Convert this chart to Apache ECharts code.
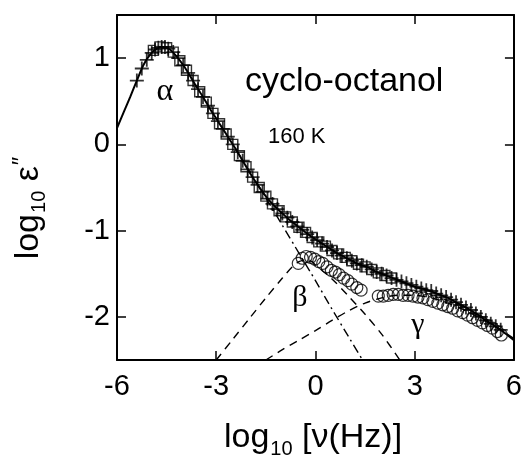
<!DOCTYPE html>
<html>
<head>
<meta charset="utf-8">
<script src="https://cdn.jsdelivr.net/npm/echarts@6.0.0/dist/echarts.min.js"></script>
<style>
  html, body { margin: 0; padding: 0; background: #fff; }
  #chart { width: 525px; height: 458px; }
</style>
</head>
<body>
<div id="chart"></div>
<script>
// fitted total curve (solid line)
var fitX = [-6.0, -5.8, -5.6, -5.4, -5.2, -5.0, -4.8, -4.6, -4.4, -4.2, -4.0, -3.8, -3.6, -3.4, -3.2, -3.0, -2.8, -2.6, -2.4, -2.2, -2.0, -1.8, -1.6, -1.4, -1.2, -1.0, -0.8, -0.6, -0.4, -0.2, 0.0, 0.2, 0.4, 0.6, 0.8, 1.0, 1.2, 1.4, 1.6, 1.8, 2.0, 2.2, 2.4, 2.6, 2.8, 3.0, 3.2, 3.4, 3.6, 3.8, 4.0, 4.2, 4.4, 4.6, 4.8, 5.0, 5.2, 5.4, 5.6, 5.8, 6.0];
var fitY = [0.19, 0.37, 0.55, 0.74, 0.92, 1.04, 1.11, 1.13, 1.10, 1.02, 0.92, 0.80, 0.67, 0.55, 0.42, 0.30, 0.18, 0.06, -0.06, -0.19, -0.32, -0.44, -0.55, -0.65, -0.73, -0.80, -0.87, -0.93, -0.99, -1.05, -1.10, -1.15, -1.20, -1.25, -1.29, -1.33, -1.37, -1.40, -1.43, -1.47, -1.50, -1.53, -1.56, -1.59, -1.62, -1.65, -1.67, -1.69, -1.72, -1.75, -1.78, -1.82, -1.86, -1.90, -1.95, -2.00, -2.05, -2.10, -2.15, -2.21, -2.27];

// alpha component (dash-dot)
var alphaX = [-2.4, -2.0, -1.5, -1.0, -0.5, 0.0, 0.5, 1.0, 1.5];
var alphaY = [-0.06, -0.31, -0.62, -0.94, -1.26, -1.58, -1.91, -2.23, -2.55];

// beta component (dashed)
var betaX = [-3.0, -2.5, -2.0, -1.5, -1.0, -0.7, -0.5, -0.3, -0.1, 0.0, 0.5, 1.0, 1.5, 2.0, 2.55];
var betaY = [-2.5, -2.26, -2.02, -1.78, -1.55, -1.42, -1.36, -1.34, -1.36, -1.40, -1.56, -1.76, -1.97, -2.2, -2.5];

// gamma component (dashed)
var gammaX = [-1.5, -1.0, -0.5, 0.0, 0.5, 1.0, 1.5, 2.0, 2.5, 3.0, 3.5, 4.0, 4.5, 5.0, 5.5, 6.0];
var gammaY = [-2.5, -2.38, -2.27, -2.16, -2.04, -1.93, -1.84, -1.78, -1.75, -1.75, -1.78, -1.84, -1.92, -2.02, -2.13, -2.25];

// measured points: crosses
var crossX = [-5.4, -5.25, -5.1, -4.95, -4.85, -4.75, -4.65, -4.55, -4.45, -4.3, -4.15, -4.0, -3.85, -3.7, -3.55, -3.4, -3.25, -3.1, -2.95, -2.8, -2.65, -2.5, -2.35, -2.2, -2.05, -1.9, -1.75, -1.6, -1.45, -1.3, -1.15, -1.0, -0.85, -0.7, -0.55, -0.4, -0.25, -0.1, 0.05, 0.2, 0.35, 0.5, 0.65, 0.8, 0.95, 1.1, 1.25, 1.4, 1.55, 1.7, 1.85, 2.0, 2.15, 2.3, 2.45, 2.6, 2.75, 2.9, 3.05, 3.2, 3.35, 3.5, 3.65, 3.8, 3.95, 4.1, 4.25, 4.4, 4.55, 4.7, 4.85, 5.0, 5.15, 5.3, 5.45, 5.6];
var crossY = [0.74, 0.88, 0.98, 1.06, 1.10, 1.12, 1.13, 1.13, 1.11, 1.07, 1.00, 0.92, 0.83, 0.74, 0.64, 0.55, 0.45, 0.36, 0.27, 0.18, 0.09, 0.00, -0.09, -0.19, -0.29, -0.38, -0.47, -0.55, -0.63, -0.69, -0.75, -0.80, -0.85, -0.90, -0.95, -0.99, -1.04, -1.08, -1.11, -1.15, -1.19, -1.23, -1.26, -1.29, -1.32, -1.35, -1.38, -1.40, -1.42, -1.45, -1.48, -1.50, -1.52, -1.55, -1.57, -1.59, -1.61, -1.63, -1.65, -1.67, -1.69, -1.70, -1.73, -1.75, -1.77, -1.80, -1.83, -1.86, -1.89, -1.92, -1.96, -2.00, -2.04, -2.08, -2.11, -2.15];

// measured points: squares
var squareX = [-4.9, -4.7, -4.5, -4.3, -4.1, -3.9, -3.7, -3.5, -3.3, -3.1, -2.9, -2.7, -2.5, -2.3, -2.1, -1.9, -1.7, -1.5, -1.3, -1.1, -0.9, -0.7, -0.5, -0.3, -0.1, 0.1, 0.3, 0.5, 0.7, 0.9, 1.1, 1.3, 1.5, 1.7, 1.9, 2.1, 2.3];
var squareY = [1.09, 1.13, 1.12, 1.07, 0.97, 0.86, 0.74, 0.61, 0.49, 0.36, 0.24, 0.12, 0.00, -0.13, -0.26, -0.38, -0.50, -0.60, -0.69, -0.77, -0.84, -0.90, -0.96, -1.02, -1.08, -1.13, -1.18, -1.23, -1.27, -1.31, -1.35, -1.39, -1.42, -1.45, -1.49, -1.52, -1.55];

// measured points: circles (secondary relaxations)
var circleX = [-0.52, -0.40, -0.28, -0.15, -0.02, 0.10, 0.22, 0.35, 0.48, 0.60, 0.72, 0.85, 0.98, 1.10, 1.25, 1.38, 1.90, 2.05, 2.20, 2.35, 2.50, 2.65, 2.80, 2.95, 3.10, 3.25, 3.40, 3.55, 3.70, 3.85, 4.00, 4.15, 4.30, 4.45, 4.60, 4.75, 4.90, 5.05, 5.20, 5.35, 5.50, 5.62];
var circleY = [-1.38, -1.32, -1.30, -1.31, -1.33, -1.36, -1.38, -1.42, -1.46, -1.48, -1.51, -1.55, -1.58, -1.62, -1.66, -1.69, -1.76, -1.76, -1.75, -1.74, -1.74, -1.75, -1.75, -1.76, -1.77, -1.78, -1.80, -1.82, -1.84, -1.86, -1.88, -1.90, -1.93, -1.95, -1.98, -2.01, -2.04, -2.07, -2.10, -2.13, -2.17, -2.21];

var xTicks = [-6, -3, 0, 3, 6];
var yTicks = [-2, -1, 0, 1];

function pairs(xs, ys) {
  return xs.map(function (x, i) { return [x, ys[i]]; });
}

var font = 'Liberation Sans, Arial, sans-serif';
var serif = 'Liberation Serif, Times New Roman, serif';

var chart = echarts.init(document.getElementById('chart'));

var axisLineStyle = { onZero: false, lineStyle: { color: '#000', width: 2 } };
function tickStyle(vals) {
  return { show: true, inside: true, length: 9, customValues: vals, lineStyle: { color: '#000', width: 1.5 } };
}

var option = {
  animation: false,
  backgroundColor: '#fff',
  grid: { left: 117, right: 8, top: 15, bottom: 98 },
  xAxis: [
    {
      type: 'value', position: 'bottom', min: -6, max: 6, interval: 3,
      axisLine: axisLineStyle, axisTick: tickStyle(xTicks), splitLine: { show: false },
      axisLabel: { color: '#000', fontSize: 29, fontFamily: font, margin: 12, customValues: xTicks }
    },
    {
      type: 'value', position: 'top', min: -6, max: 6, interval: 3,
      axisLine: axisLineStyle, axisTick: tickStyle(xTicks), axisLabel: { show: false }, splitLine: { show: false }
    }
  ],
  yAxis: [
    {
      type: 'value', position: 'left', min: -2.5, max: 1.5, interval: 0.5,
      axisLine: axisLineStyle, axisTick: tickStyle(yTicks), splitLine: { show: false },
      axisLabel: { color: '#000', fontSize: 29, fontFamily: font, margin: 7, customValues: yTicks }
    },
    {
      type: 'value', position: 'right', min: -2.5, max: 1.5, interval: 0.5,
      axisLine: axisLineStyle, axisTick: tickStyle(yTicks), axisLabel: { show: false }, splitLine: { show: false }
    }
  ],
  series: [
    {
      type: 'line', data: pairs(fitX, fitY), smooth: 0.2, showSymbol: false,
      lineStyle: { color: '#000', width: 2 }
    },
    {
      type: 'line', data: pairs(alphaX, alphaY), smooth: 0.2, showSymbol: false,
      lineStyle: { color: '#000', width: 1.4, type: [9, 4, 2, 4] }
    },
    {
      type: 'line', data: pairs(betaX, betaY), smooth: 0.3, showSymbol: false,
      lineStyle: { color: '#000', width: 1.4, type: [8, 6] }
    },
    {
      type: 'line', data: pairs(gammaX, gammaY), smooth: 0.3, showSymbol: false,
      lineStyle: { color: '#000', width: 1.4, type: [8, 6] }
    },
    {
      type: 'scatter', data: pairs(squareX, squareY), symbol: 'rect', symbolSize: 10,
      itemStyle: { color: '#fff', borderColor: '#000', borderWidth: 1.4 }
    },
    {
      type: 'scatter', data: pairs(circleX, circleY), symbol: 'circle', symbolSize: 12,
      itemStyle: { color: 'rgba(255,255,255,0)', borderColor: '#000', borderWidth: 1.2 }
    },
    {
      type: 'scatter', data: pairs(crossX, crossY),
      symbol: 'path://M0,-10L0,10M-10,0L10,0', symbolSize: 14,
      itemStyle: { color: 'none', borderColor: '#000', borderWidth: 1.8 }
    }
  ],
  graphic: [
    { type: 'text', x: 245, y: 82, style: { text: 'cyclo-octanol', font: '34px ' + font, fill: '#000', textVerticalAlign: 'middle' } },
    { type: 'text', x: 268, y: 137, style: { text: '160 K', font: '22px ' + font, fill: '#000', textVerticalAlign: 'middle' } },
    { type: 'text', x: 165, y: 92, style: { text: 'α', font: '32px ' + serif, fill: '#000', textAlign: 'center', textVerticalAlign: 'middle' } },
    { type: 'text', x: 300, y: 298, style: { text: 'β', font: '30px ' + serif, fill: '#000', textAlign: 'center', textVerticalAlign: 'middle' } },
    { type: 'text', x: 418, y: 325, style: { text: 'γ', font: '30px ' + serif, fill: '#000', textAlign: 'center', textVerticalAlign: 'middle' } },
    {
      type: 'text', x: 313, y: 438,
      style: {
        text: '{a|log}{b|10}{a| [ν(Hz)]}', fill: '#000', textAlign: 'center', textVerticalAlign: 'middle',
        rich: {
          a: { fontSize: 34, fontFamily: font, color: '#000' },
          b: { fontSize: 20, fontFamily: font, color: '#000', padding: [22, 0, 0, 1] }
        }
      }
    },
    {
      type: 'text', x: 29, y: 208, rotation: Math.PI / 2,
      style: {
        text: '{a|log}{b|10}{a| ε}{c|\u2033}', fill: '#000', textAlign: 'center', textVerticalAlign: 'middle',
        rich: {
          a: { fontSize: 34, fontFamily: font, color: '#000' },
          b: { fontSize: 20, fontFamily: font, color: '#000', padding: [20, 0, 0, 1] },
          c: { fontSize: 24, fontFamily: font, color: '#000', padding: [0, 0, 14, 1] }
        }
      }
    }
  ]
};

chart.setOption(option);
</script>
</body>
</html>
